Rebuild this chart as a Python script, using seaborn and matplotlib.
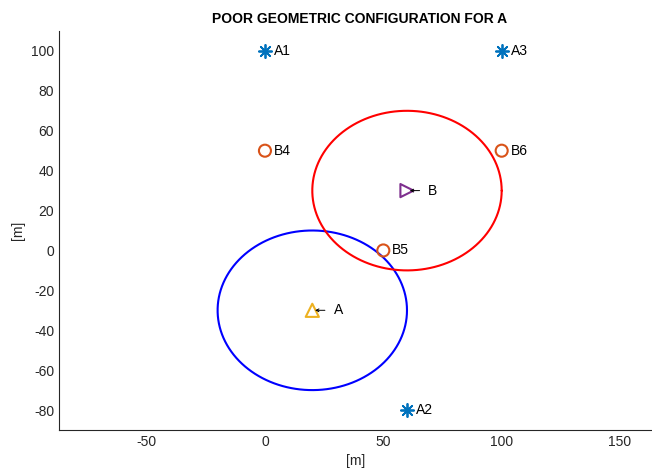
import numpy as np
import pandas as pd
import matplotlib
matplotlib.use("Agg")
import matplotlib.pyplot as plt
import seaborn as sns

# Data
anchor_names = ["A1", "A2", "A3"]
anchor_x = [0, 60, 100]
anchor_y = [100, -80, 100]
b_names = ["B4", "B5", "B6"]
b_x = [0, 50, 100]
b_y = [50, 0, 50]
node_names = ["A", "B"]
node_x = [20, 60]
node_y = [-30, 30]
circle_cx = [20, 60]
circle_cy = [-30, 30]
circle_r = [40, 40]
circle_colors = ["#0000FF", "#FF0000"]
title = "POOR GEOMETRIC CONFIGURATION FOR A"
xticks = [-50, 0, 50, 100, 150]
yticks = [-80, -60, -40, -20, 0, 20, 40, 60, 80, 100]

sns.set_style("white")
plt.rcParams["font.family"] = ["Liberation Sans", "DejaVu Sans"]
plt.rcParams["axes.unicode_minus"] = False

fig = plt.figure(figsize=(6.52, 4.68), dpi=100)
ax = fig.add_axes([59/652, 38/468, 1 - 59/652, (430-31)/468])

# circles
t = np.linspace(0, 2*np.pi, 400)
for cx, cy, r, c in zip(circle_cx, circle_cy, circle_r, circle_colors):
    df = pd.DataFrame({"x": cx + r*np.cos(t), "y": cy + r*np.sin(t)})
    sns.lineplot(data=df, x="x", y="y", sort=False, estimator=None, color=c, lw=1.5, ax=ax)

blue = "#0072BD"
orange = "#D95319"
sns.scatterplot(x=anchor_x, y=anchor_y, marker=(8, 2, 0), s=90, color=blue,
                linewidth=1.3, ax=ax, zorder=3)
ax.scatter(b_x, b_y, marker="o", s=75, facecolors="none", edgecolors=orange, linewidths=1.5, zorder=3)
ax.scatter([node_x[0]], [node_y[0]], marker="^", s=90, facecolors="none", edgecolors="#EDB120", linewidths=1.5, zorder=3)
ax.scatter([node_x[1]], [node_y[1]], marker=">", s=90, facecolors="none", edgecolors="#7E2F8E", linewidths=1.5, zorder=3)

for n, x, y in zip(anchor_names + b_names, anchor_x + b_x, anchor_y + b_y):
    ax.text(x + 3.8, y, n, va="center", ha="left", fontsize=10, color="black")
for n, x, y in zip(node_names, node_x, node_y):
    ax.text(x + 9, y, n, va="center", ha="left", fontsize=10, color="black")
    ax.annotate("", xy=(x, y), xytext=(x + 6.5, y),
                arrowprops=dict(arrowstyle="->", lw=0.7, color="black", mutation_scale=5))

ax.set_xlim(-87, 163.5)
ax.set_ylim(-90, 110)
ax.set_xticks(xticks)
ax.set_yticks(yticks)
ax.tick_params(direction="in", length=4, colors="#262626", labelsize=10, width=0.8)
for s in ["top", "right"]:
    ax.spines[s].set_visible(False)
for s in ["left", "bottom"]:
    ax.spines[s].set_color("#262626")
    ax.spines[s].set_linewidth(0.8)
ax.set_xlabel("[m]", fontsize=10, color="#262626", labelpad=4)
ax.set_ylabel("[m]", fontsize=10, color="#262626", labelpad=4)
fig.text(360/652, 1 - 19/468, title, ha="center", va="center", fontsize=10, fontweight="bold", color="black")

fig.savefig("out.png", dpi=100)
